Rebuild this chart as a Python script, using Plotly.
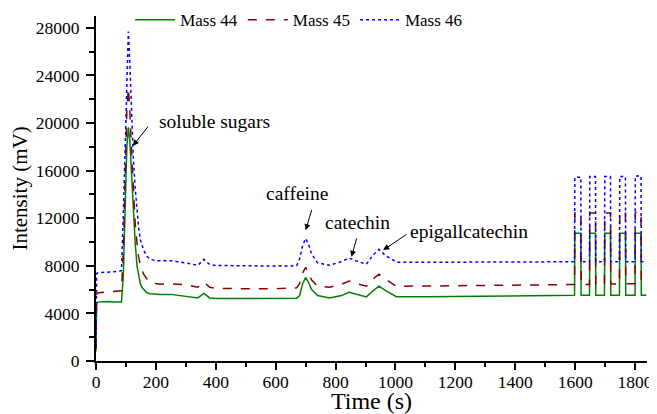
import plotly.graph_objects as go

# ---- data ----
time_s = [0, 2, 5, 20, 40, 60, 80, 85, 91, 97, 103, 108, 113, 119, 125, 131, 137, 142,
          148, 153, 159, 170, 181, 200, 214, 250, 300, 340, 360, 380, 400, 500, 600,
          670, 680, 690, 700, 710, 720, 740, 780, 820, 845, 870, 903, 925, 945, 965,
          1003, 1100, 1200, 1400, 1598,
          1599, 1619, 1620, 1648, 1649, 1668, 1669, 1698, 1699, 1718, 1719,
          1748, 1749, 1768, 1769, 1800, 1801, 1820, 1821, 1838]

mass44 = [800, 4800, 4950, 4980, 5000, 4950, 4950, 4950, 7000, 13000, 18000, 19650, 18500,
          15600, 12500, 9880, 8000, 7200, 6500, 6200, 6000, 5730, 5650, 5600, 5580, 5600,
          5450, 5300, 5680, 5300, 5250, 5250, 5250,
          5270, 5500, 6500, 7020, 6600, 6000, 5500, 5300, 5500, 5780, 5600, 5390, 5900,
          6290, 5950, 5400, 5400, 5420, 5450, 5530,
          10730, 10730, 5530, 5530, 10730, 10730, 5530, 5530, 10730, 10730, 5530,
          5530, 10730, 10730, 5530, 5530, 10730, 10730, 5530, 5530]

mass45 = [1000, 5600, 5720, 5750, 5780, 5800, 5870, 5900, 9000, 15000, 21000, 22950, 21000,
          17500, 14000, 11500, 9880, 8800, 8100, 7640, 7300, 6900, 6650, 6520, 6460, 6480,
          6420, 6200, 6630, 6200, 6100, 6080, 6080,
          6150, 6500, 7400, 7870, 7400, 6800, 6300, 6200, 6450, 6720, 6500, 6290, 6900,
          7300, 6900, 6290, 6300, 6320, 6380, 6430,
          12450, 12450, 6430, 6430, 12450, 12450, 6450, 6450, 12450, 12450, 6470,
          6470, 12500, 12500, 6500, 6500, 12500, 12500, 6500, 6500]

mass46 = [1200, 7300, 7420, 7440, 7450, 7500, 7570, 7600, 12000, 18500, 24500, 27700, 25000,
          20300, 16900, 14500, 12500, 11280, 10200, 9700, 9320, 8800, 8550, 8430, 8420, 8420,
          8250, 8040, 8540, 8100, 8030, 7980, 7980,
          8000, 8600, 9700, 10300, 9800, 9000, 8250, 8050, 8350, 8670, 8400, 8140, 8900,
          9380, 8900, 8310, 8300, 8300, 8300, 8340,
          15450, 15450, 8340, 8340, 15500, 15500, 8340, 8340, 15500, 15500, 8340,
          8340, 15500, 15500, 8340, 8340, 15550, 15550, 8340, 8340]

series_names = ["Mass 44", "Mass 45", "Mass 46"]
series_values = [mass44, mass45, mass46]
series_colors = ["#008000", "#8b0000", "#0000ff"]
series_dash = ["solid", "dash", "dot"]

x_ticks = [0, 200, 400, 600, 800, 1000, 1200, 1400, 1600, 1800]
y_ticks = [0, 4000, 8000, 12000, 16000, 20000, 24000, 28000]

labels = ["soluble sugars", "caffeine", "catechin", "epigallcatechin"]

FONT = "Liberation Serif"

fig = go.Figure()
for name, vals, col, dash in zip(series_names, series_values, series_colors, series_dash):
    fig.add_trace(go.Scatter(x=time_s, y=vals, mode="lines", name=name,
                             line=dict(color=col, width=1.5, dash=dash)))

# text labels (position in data units)
text_pos = [(204, 20100, "left"), (671, 14120, "center"), (873, 11620, "center"), (1042, 10860, "left")]
arrows = [((178, 19840), (123, 18080)),
          ((722, 12830), (700, 11000)),
          ((872, 10440), (853, 8760)),
          ((1042, 10730), (959, 9320))]

ann = []
for lab, (tx, ty, anc) in zip(labels, text_pos):
    ann.append(dict(x=tx, y=ty, text=lab, showarrow=False, xanchor=anc, yanchor="middle",
                    font=dict(family=FONT, size=19.5, color="black")))
for (tail, head) in arrows:
    ann.append(dict(x=head[0], y=head[1], ax=tail[0], ay=tail[1], axref="x", ayref="y",
                    text="", showarrow=True, arrowhead=2, arrowsize=1.2, arrowwidth=1,
                    arrowcolor="black"))

# the page body has an 8px margin, so the figure is 8px smaller and margins shifted
fig.update_layout(
    width=649, height=406,
    margin=dict(l=88, r=10, t=8, b=53, autoexpand=False),
    paper_bgcolor="white", plot_bgcolor="white",
    font=dict(family=FONT, size=17, color="black"),
    showlegend=True,
    legend=dict(orientation="h", x=0.062, y=0.988, xanchor="left", yanchor="middle",
                bgcolor="rgba(0,0,0,0)", font=dict(family=FONT, size=17),
                itemwidth=40, tracegroupgap=0),
    annotations=ann,
)
fig.update_xaxes(range=[0, 1840], tickvals=x_ticks, tickformat="d", showgrid=False, zeroline=False,
                 automargin=False,
                 showline=True, linecolor="black", linewidth=2,
                 ticks="outside", ticklen=7, tickwidth=2, tickcolor="black",
                 ticklabelstandoff=-3,
                 minor=dict(dtick=100, tick0=0, ticks="outside", ticklen=4, tickwidth=2,
                            tickcolor="black", showgrid=False),
                 tickfont=dict(family=FONT, size=17.5),
                 title=dict(text="Time (s)", font=dict(family=FONT, size=24), standoff=4))
fig.update_yaxes(range=[0, 29000], tickvals=y_ticks, tickformat="d", showgrid=False, zeroline=False,
                 automargin=False,
                 showline=True, linecolor="black", linewidth=2,
                 ticks="outside", ticklen=8, tickwidth=2, tickcolor="black",
                 ticklabelstandoff=3,
                 minor=dict(dtick=2000, tick0=0, ticks="outside", ticklen=5, tickwidth=2,
                            tickcolor="black", showgrid=False),
                 tickfont=dict(family=FONT, size=17.5),
                 title=dict(text="Intensity (mV)", font=dict(family=FONT, size=21), standoff=4))

fig.write_html("out.html")
